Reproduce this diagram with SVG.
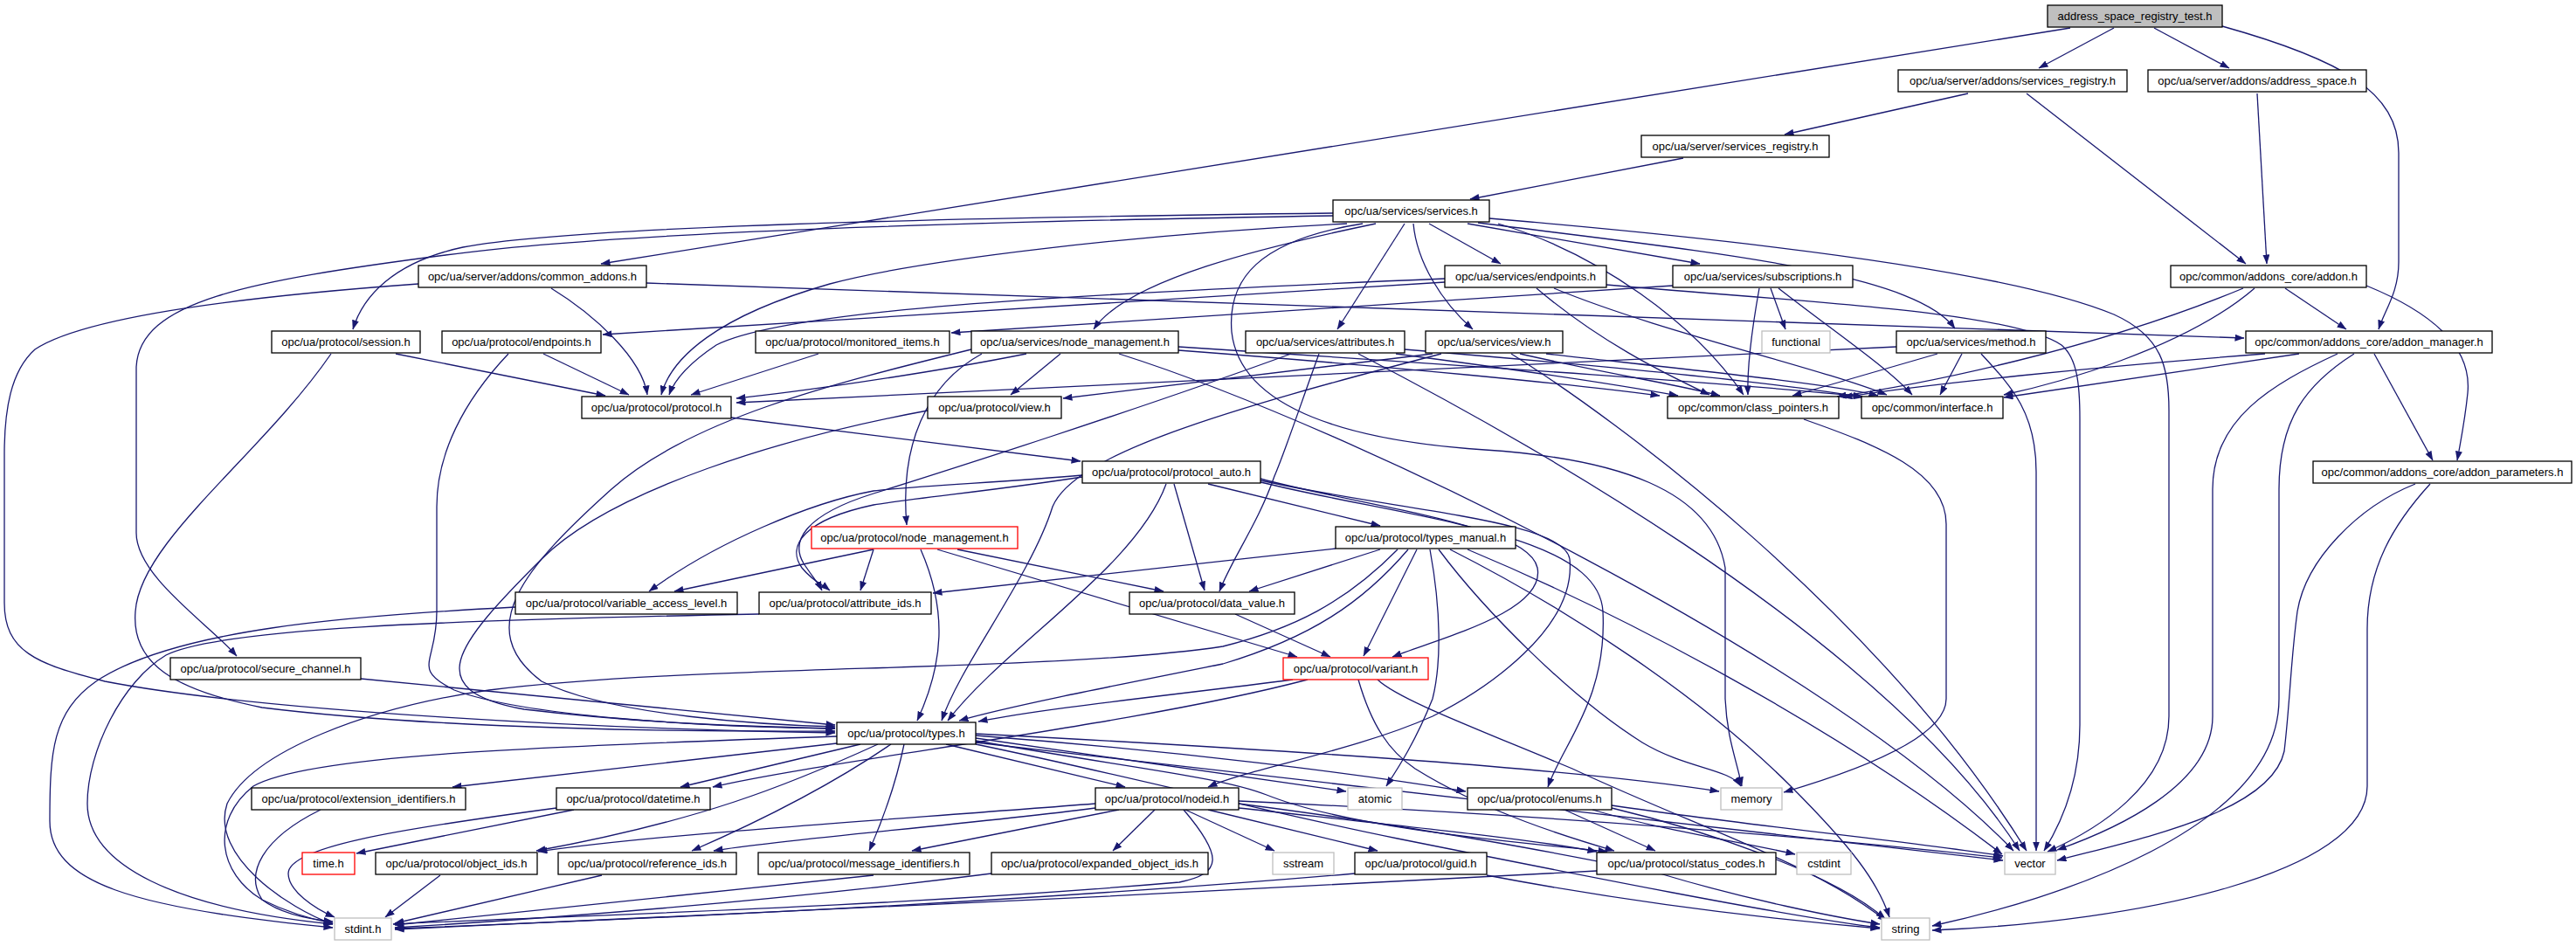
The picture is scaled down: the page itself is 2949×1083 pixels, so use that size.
<svg xmlns="http://www.w3.org/2000/svg" width="2949" height="1083" viewBox="0 0 2949 1083">
<style>
.n rect{fill:#fff;stroke:#000;stroke-width:1.3}
.g rect{fill:#fff;stroke:#bfbfbf;stroke-width:1.3}
.r rect{fill:#fff;stroke:#f00;stroke-width:1.3}
.root rect{fill:#bfbfbf;stroke:#000;stroke-width:1.3}
text{font-family:"Liberation Sans",Arial,sans-serif;font-size:13px;text-anchor:middle;fill:#000}
#edges path{fill:none;stroke:#191970;stroke-width:1.3;marker-end:url(#ah)}
</style>
<defs>
<marker id="ah" markerWidth="11" markerHeight="8" refX="10.5" refY="4" orient="auto" markerUnits="userSpaceOnUse"><path d="M0,0 L11,4 L0,8 z" fill="#191970" stroke="none"/></marker>
</defs>
<rect width="2949" height="1083" fill="#fff"/>
<g id="edges">
<path d="M2370,32 L688,302"/>
<path d="M2420,32 L2334,78"/>
<path d="M2466,32 L2552,78"/>
<path d="M2544,30 C2680,68 2746,105 2746,175 L2746,300 C2746,335 2730,355 2723,377"/>
<path d="M2253,107 L2043,154"/>
<path d="M2320,107 L2571,302"/>
<path d="M2584,107 L2595,302"/>
<path d="M1927,181 L1683,228"/>
<path d="M1526,244 C1000,250 640,262 530,283 C450,300 415,340 404,377"/>
<path d="M1526,247 C1100,254 700,266 510,292 C280,322 160,345 156,420 L156,610 C156,660 240,715 271,751"/>
<path d="M1542,256 C1300,268 1050,298 950,325 C820,362 768,410 757,452"/>
<path d="M1575,256 C1450,282 1290,320 1252,377"/>
<path d="M1608,256 L1531,377"/>
<path d="M1618,256 C1622,300 1650,345 1686,377"/>
<path d="M1636,256 L1718,302"/>
<path d="M1680,256 L1946,302"/>
<path d="M1692,255 C1950,288 2190,310 2238,376"/>
<path d="M1705,250 C2000,275 2300,310 2420,360 C2475,385 2483,420 2483,470 L2483,820 C2483,900 2400,950 2344,975"/>
<path d="M1715,256 C1830,290 1940,370 1996,452"/>
<path d="M1560,256 C1440,275 1405,320 1410,380 C1420,470 1550,505 1700,515 C1850,525 1960,560 1975,650 L1975,800 C1977,845 1988,870 1994,900"/>
<path d="M740,324 L2569,387"/>
<path d="M631,330 C680,360 735,410 741,452"/>
<path d="M479,325 C300,338 100,360 40,400 C12,425 5,470 5,520 L5,690 C5,745 40,760 120,780 C300,815 700,835 956,839"/>
<path d="M1654,319 C1200,338 900,355 820,395 C790,415 772,435 766,452"/>
<path d="M1654,323 L690,383"/>
<path d="M1759,330 C1830,390 1900,425 1957,452"/>
<path d="M1779,330 C1900,380 2080,420 2160,452"/>
<path d="M1839,326 C2050,345 2300,355 2360,395 C2378,410 2381,440 2381,480 L2381,830 C2381,900 2355,950 2340,974"/>
<path d="M1915,327 L1089,381"/>
<path d="M2027,330 L2044,377"/>
<path d="M2014,330 C2005,380 2000,420 2001,452"/>
<path d="M2036,330 C2100,380 2160,420 2189,452"/>
<path d="M1214,405 L1157,452"/>
<path d="M1124,405 C1060,440 1030,510 1038,601"/>
<path d="M1175,405 C1050,430 900,450 843,456"/>
<path d="M1349,401 C1600,420 1800,440 1900,453"/>
<path d="M1349,397 C1700,420 2000,440 2132,454"/>
<path d="M1281,405 C1550,490 2100,760 2305,974"/>
<path d="M1112,400 C950,440 790,480 700,560 C600,650 540,720 620,780 C700,820 880,830 956,832"/>
<path d="M1062,470 C900,500 700,560 620,640 C520,740 480,790 600,812 C750,830 880,832 956,834"/>
<path d="M1478,405 C1300,470 1080,540 1000,565 C920,590 905,620 920,645 C930,660 938,670 941,676"/>
<path d="M1239,546 C1150,560 1050,570 1000,578 C920,595 900,625 918,650 C930,665 945,672 950,676"/>
<path d="M1239,544 C1150,552 1050,556 1000,562 C930,575 820,620 743,677"/>
<path d="M1510,405 C1490,460 1470,520 1459,545 C1440,600 1410,640 1396,677"/>
<path d="M1598,405 C1750,425 1850,440 1921,453"/>
<path d="M1608,400 C1850,420 2050,440 2133,455"/>
<path d="M1555,405 C1700,480 2150,720 2312,974"/>
<path d="M1640,405 L1217,456"/>
<path d="M1650,405 C1400,470 1230,520 1205,580 C1180,660 1100,760 1078,825"/>
<path d="M1740,405 C1850,430 1920,440 1969,453"/>
<path d="M1770,405 C1950,425 2100,440 2150,453"/>
<path d="M1730,405 C1850,480 2150,700 2320,974"/>
<path d="M2171,397 L843,461"/>
<path d="M2218,405 L2052,453"/>
<path d="M2246,405 L2221,452"/>
<path d="M2268,405 C2300,440 2331,470 2331,540 L2331,974"/>
<path d="M2616,330 L2686,377"/>
<path d="M2568,330 C2400,400 2200,440 2103,454"/>
<path d="M2581,330 C2500,400 2350,440 2294,452"/>
<path d="M2709,327 C2790,360 2830,400 2825,450 C2822,480 2818,500 2813,527"/>
<path d="M2593,405 C2400,420 2200,440 2110,455"/>
<path d="M2632,405 L2294,455"/>
<path d="M2676,405 C2600,440 2533,480 2533,560 L2533,820 C2533,900 2420,950 2355,973"/>
<path d="M2695,405 C2640,440 2609,480 2609,560 L2609,800 C2609,950 2350,1030 2212,1060"/>
<path d="M2718,405 L2785,527"/>
<path d="M2765,554 C2700,580 2640,640 2630,700 C2622,760 2622,800 2615,860 C2600,930 2450,960 2355,985"/>
<path d="M2782,554 C2740,600 2710,650 2710,720 L2710,900 C2710,1000 2450,1055 2212,1065"/>
<path d="M2065,480 C2150,510 2228,540 2228,600 L2228,800 C2228,850 2100,890 2042,907"/>
<path d="M622,405 L720,452"/>
<path d="M582,405 C530,460 500,520 500,580 L500,700 C500,760 470,765 520,790 C600,820 800,832 956,834"/>
<path d="M453,405 L693,453"/>
<path d="M379,405 C300,520 160,620 155,700 C150,760 200,790 300,810 C500,835 800,838 956,837"/>
<path d="M937,405 L791,452"/>
<path d="M837,478 L1237,528"/>
<path d="M413,777 L956,830"/>
<path d="M1344,554 L1379,676"/>
<path d="M1335,554 C1300,650 1150,740 1085,825"/>
<path d="M1383,554 L1580,602"/>
<path d="M1443,548 C1560,580 1750,600 1760,650 C1770,700 1650,730 1594,752"/>
<path d="M1443,550 C1600,585 1790,595 1797,640 C1805,720 1700,790 1640,820 C1550,860 1430,880 1383,901"/>
<path d="M1443,552 C1620,595 1830,610 1835,700 C1840,800 1790,850 1772,901"/>
<path d="M1000,629 L772,677"/>
<path d="M1000,629 L985,676"/>
<path d="M1096,629 L1332,677"/>
<path d="M1073,629 L1485,752"/>
<path d="M1054,629 C1085,700 1080,760 1050,825"/>
<path d="M1529,628 L1068,679"/>
<path d="M1580,629 L1430,677"/>
<path d="M1600,629 C1540,690 1480,720 1400,740 C1200,770 800,760 560,790 C420,810 290,860 260,920 C240,980 330,1040 381,1058"/>
<path d="M1612,629 C1560,690 1500,730 1400,760 C1250,790 1150,810 1098,825"/>
<path d="M1622,629 L1561,751"/>
<path d="M1637,629 C1650,700 1650,760 1640,800 C1620,850 1600,880 1587,900"/>
<path d="M1647,629 C1700,700 1800,800 1880,850 C1930,880 1980,880 1993,900"/>
<path d="M1660,629 C1800,700 1950,800 2050,900 C2120,970 2150,1010 2163,1050"/>
<path d="M1680,629 C1850,700 2100,830 2292,978"/>
<path d="M1480,778 C1350,795 1200,810 1120,826"/>
<path d="M1497,778 C1300,830 950,870 816,901"/>
<path d="M1555,778 C1570,830 1590,860 1620,880 C1700,930 1800,960 1848,974"/>
<path d="M1577,778 C1600,800 1680,830 1800,880 C1950,950 2080,990 2160,1055"/>
<path d="M1414,703 L1523,752"/>
<path d="M590,695 C400,705 200,720 110,780 C60,815 57,860 57,940 C57,1010 150,1040 381,1062"/>
<path d="M869,703 C500,710 250,720 190,750 C140,780 100,860 100,920 C100,990 200,1040 381,1058"/>
<path d="M958,851 L518,901"/>
<path d="M985,852 L779,901"/>
<path d="M1005,852 C900,900 800,940 614,974"/>
<path d="M1020,852 C950,900 870,940 792,974"/>
<path d="M1035,852 C1025,900 1010,940 995,974"/>
<path d="M1083,852 L1288,901"/>
<path d="M1117,845 L1541,906"/>
<path d="M1117,842 C1350,860 1550,885 1678,906"/>
<path d="M1117,840 C1500,860 1800,880 1968,906"/>
<path d="M1117,848 C1300,880 1400,890 1450,910 C1550,950 1750,965 1840,975"/>
<path d="M1117,850 C1400,880 1800,930 2293,985"/>
<path d="M1117,852 C1300,890 1450,930 1600,960 C1800,1000 2050,1050 2152,1062"/>
<path d="M958,843 C600,855 350,865 290,900 C240,940 250,1000 300,1030 C330,1045 360,1053 381,1057"/>
<path d="M1254,920 C1000,940 750,955 616,975"/>
<path d="M1254,925 C1100,945 900,960 817,974"/>
<path d="M1281,927 L1044,974"/>
<path d="M1322,927 L1274,974"/>
<path d="M1357,927 L1459,974"/>
<path d="M1383,927 L1577,974"/>
<path d="M1418,925 C1600,945 1750,960 1828,975"/>
<path d="M1355,927 C1400,980 1400,1000 1350,1010 C1000,1040 600,1050 450,1058"/>
<path d="M1418,920 C1650,950 1800,980 1900,1000 C2000,1030 2100,1050 2152,1058"/>
<path d="M1418,917 C1700,930 2000,950 2292,982"/>
<path d="M1791,927 L1895,974"/>
<path d="M1823,927 C1900,950 2000,965 2055,978"/>
<path d="M1845,922 C2000,945 2200,965 2293,980"/>
<path d="M1845,925 C1950,950 2100,1000 2158,1052"/>
<path d="M657,927 L408,977"/>
<path d="M637,925 C450,950 330,970 330,1000 C330,1020 360,1040 383,1050"/>
<path d="M367,927 C300,960 280,1000 300,1030 C320,1045 350,1052 381,1055"/>
<path d="M504,1002 L441,1050"/>
<path d="M689,1002 L452,1057"/>
<path d="M1000,1002 L452,1059"/>
<path d="M1135,1000 C900,1030 650,1050 452,1062"/>
<path d="M1551,1000 C1200,1030 800,1050 452,1063"/>
<path d="M1702,1002 C1850,1030 2000,1050 2152,1063"/>
<path d="M1828,997 C1400,1020 800,1050 452,1064"/>
</g>
<g id="n_test" class="root"><rect x="2344" y="6" width="200" height="25"/><text x="2444" y="23">address_space_registry_test.h</text></g>
<g id="n_asr" class="n"><rect x="2173" y="80" width="262" height="25"/><text x="2304" y="97">opc/ua/server/addons/services_registry.h</text></g>
<g id="n_as" class="n"><rect x="2459" y="80" width="250" height="25"/><text x="2584" y="97">opc/ua/server/addons/address_space.h</text></g>
<g id="n_ssr" class="n"><rect x="1879" y="155" width="215" height="25"/><text x="1986.5" y="172">opc/ua/server/services_registry.h</text></g>
<g id="n_services" class="n"><rect x="1526" y="229" width="179" height="25"/><text x="1615.5" y="246">opc/ua/services/services.h</text></g>
<g id="n_common_addons" class="n"><rect x="479" y="304" width="261" height="25"/><text x="609.5" y="321">opc/ua/server/addons/common_addons.h</text></g>
<g id="n_svc_endpoints" class="n"><rect x="1654" y="304" width="185" height="25"/><text x="1746.5" y="321">opc/ua/services/endpoints.h</text></g>
<g id="n_subscriptions" class="n"><rect x="1915" y="304" width="206" height="25"/><text x="2018" y="321">opc/ua/services/subscriptions.h</text></g>
<g id="n_addon" class="n"><rect x="2485" y="304" width="224" height="25"/><text x="2597" y="321">opc/common/addons_core/addon.h</text></g>
<g id="n_session" class="n"><rect x="311" y="379" width="170" height="25"/><text x="396" y="396">opc/ua/protocol/session.h</text></g>
<g id="n_prot_endpoints" class="n"><rect x="506" y="379" width="182" height="25"/><text x="597" y="396">opc/ua/protocol/endpoints.h</text></g>
<g id="n_monitored" class="n"><rect x="865" y="379" width="222" height="25"/><text x="976" y="396">opc/ua/protocol/monitored_items.h</text></g>
<g id="n_svc_nodemgmt" class="n"><rect x="1112" y="379" width="237" height="25"/><text x="1230.5" y="396">opc/ua/services/node_management.h</text></g>
<g id="n_attributes" class="n"><rect x="1426" y="379" width="182" height="25"/><text x="1517" y="396">opc/ua/services/attributes.h</text></g>
<g id="n_svc_view" class="n"><rect x="1632" y="379" width="157" height="25"/><text x="1710.5" y="396">opc/ua/services/view.h</text></g>
<g id="n_functional" class="g"><rect x="2017" y="379" width="78" height="25"/><text x="2056" y="396">functional</text></g>
<g id="n_method" class="n"><rect x="2171" y="379" width="171" height="25"/><text x="2256.5" y="396">opc/ua/services/method.h</text></g>
<g id="n_addon_manager" class="n"><rect x="2571" y="379" width="282" height="25"/><text x="2712" y="396">opc/common/addons_core/addon_manager.h</text></g>
<g id="n_protocol" class="n"><rect x="666" y="454" width="171" height="25"/><text x="751.5" y="471">opc/ua/protocol/protocol.h</text></g>
<g id="n_prot_view" class="n"><rect x="1062" y="454" width="153" height="25"/><text x="1138.5" y="471">opc/ua/protocol/view.h</text></g>
<g id="n_class_pointers" class="n"><rect x="1909" y="454" width="196" height="25"/><text x="2007" y="471">opc/common/class_pointers.h</text></g>
<g id="n_interface" class="n"><rect x="2131" y="454" width="162" height="25"/><text x="2212" y="471">opc/common/interface.h</text></g>
<g id="n_protocol_auto" class="n"><rect x="1239" y="528" width="204" height="25"/><text x="1341" y="545">opc/ua/protocol/protocol_auto.h</text></g>
<g id="n_addon_params" class="n"><rect x="2648" y="528" width="296" height="25"/><text x="2796" y="545">opc/common/addons_core/addon_parameters.h</text></g>
<g id="n_prot_nodemgmt" class="r"><rect x="929" y="603" width="236" height="25"/><text x="1047" y="620">opc/ua/protocol/node_management.h</text></g>
<g id="n_types_manual" class="n"><rect x="1529" y="603" width="206" height="25"/><text x="1632" y="620">opc/ua/protocol/types_manual.h</text></g>
<g id="n_val" class="n"><rect x="590" y="678" width="254" height="25"/><text x="717" y="695">opc/ua/protocol/variable_access_level.h</text></g>
<g id="n_attr_ids" class="n"><rect x="869" y="678" width="197" height="25"/><text x="967.5" y="695">opc/ua/protocol/attribute_ids.h</text></g>
<g id="n_data_value" class="n"><rect x="1293" y="678" width="189" height="25"/><text x="1387.5" y="695">opc/ua/protocol/data_value.h</text></g>
<g id="n_secure_channel" class="n"><rect x="195" y="753" width="218" height="25"/><text x="304" y="770">opc/ua/protocol/secure_channel.h</text></g>
<g id="n_variant" class="r"><rect x="1469" y="753" width="166" height="25"/><text x="1552" y="770">opc/ua/protocol/variant.h</text></g>
<g id="n_types" class="n"><rect x="958" y="827" width="159" height="25"/><text x="1037.5" y="844">opc/ua/protocol/types.h</text></g>
<g id="n_ext_ids" class="n"><rect x="288" y="902" width="245" height="25"/><text x="410.5" y="919">opc/ua/protocol/extension_identifiers.h</text></g>
<g id="n_datetime" class="n"><rect x="637" y="902" width="176" height="25"/><text x="725" y="919">opc/ua/protocol/datetime.h</text></g>
<g id="n_nodeid" class="n"><rect x="1254" y="902" width="164" height="25"/><text x="1336" y="919">opc/ua/protocol/nodeid.h</text></g>
<g id="n_atomic" class="g"><rect x="1543" y="902" width="62" height="25"/><text x="1574" y="919">atomic</text></g>
<g id="n_enums" class="n"><rect x="1680" y="902" width="165" height="25"/><text x="1762.5" y="919">opc/ua/protocol/enums.h</text></g>
<g id="n_memory" class="g"><rect x="1970" y="902" width="70" height="25"/><text x="2005" y="919">memory</text></g>
<g id="n_time" class="r"><rect x="346" y="976" width="60" height="25"/><text x="376" y="993">time.h</text></g>
<g id="n_object_ids" class="n"><rect x="430" y="976" width="185" height="25"/><text x="522.5" y="993">opc/ua/protocol/object_ids.h</text></g>
<g id="n_reference_ids" class="n"><rect x="639" y="976" width="204" height="25"/><text x="741" y="993">opc/ua/protocol/reference_ids.h</text></g>
<g id="n_message_ids" class="n"><rect x="868" y="976" width="242" height="25"/><text x="989" y="993">opc/ua/protocol/message_identifiers.h</text></g>
<g id="n_expanded" class="n"><rect x="1135" y="976" width="248" height="25"/><text x="1259" y="993">opc/ua/protocol/expanded_object_ids.h</text></g>
<g id="n_sstream" class="g"><rect x="1457" y="976" width="70" height="25"/><text x="1492" y="993">sstream</text></g>
<g id="n_guid" class="n"><rect x="1551" y="976" width="151" height="25"/><text x="1626.5" y="993">opc/ua/protocol/guid.h</text></g>
<g id="n_status_codes" class="n"><rect x="1828" y="976" width="205" height="25"/><text x="1930.5" y="993">opc/ua/protocol/status_codes.h</text></g>
<g id="n_cstdint" class="g"><rect x="2057" y="976" width="62" height="25"/><text x="2088" y="993">cstdint</text></g>
<g id="n_vector" class="g"><rect x="2295" y="976" width="58" height="25"/><text x="2324" y="993">vector</text></g>
<g id="n_stdint" class="g"><rect x="383" y="1051" width="65" height="25"/><text x="415.5" y="1068">stdint.h</text></g>
<g id="n_string" class="g"><rect x="2154" y="1051" width="55" height="25"/><text x="2181.5" y="1068">string</text></g>
</svg>
